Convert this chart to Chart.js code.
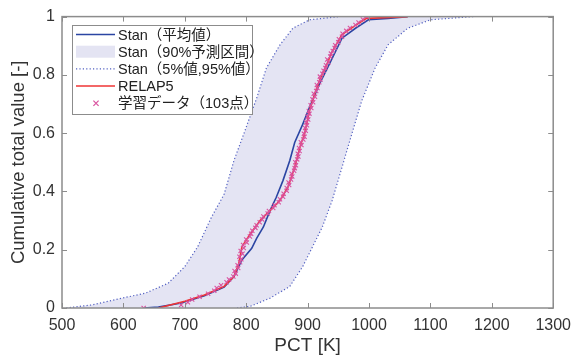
<!DOCTYPE html>
<html>
<head>
<meta charset="utf-8">
<script src="https://cdn.jsdelivr.net/npm/chart.js@4.4.1/dist/chart.umd.min.js"></script>
<style>
  html, body { margin: 0; padding: 0; background: #fff; }
  #wrap { width: 579px; height: 361px; }
</style>
</head>
<body>
<div id="wrap"><canvas id="cdfChart"></canvas></div>
<script>
// Stan 5% / 95% curves (PCT [K], cumulative value)
const lowerPct = [507, 550, 598, 636, 673, 700, 721, 743, 764, 780, 796, 817, 833, 855, 876, 903, 951];
const lowerCum = [0, 0.011, 0.034, 0.051, 0.085, 0.142, 0.21, 0.31, 0.39, 0.506, 0.597, 0.72, 0.824, 0.903, 0.96, 0.989, 1];
const upperPct = [785, 807, 839, 871, 892, 908, 924, 940, 956, 972, 988, 1010, 1031, 1063, 1100, 1170];
const upperCum = [0, 0.006, 0.034, 0.074, 0.142, 0.21, 0.278, 0.369, 0.483, 0.597, 0.71, 0.824, 0.903, 0.96, 0.989, 1];

// Stan mean
const meanPct = [633, 657, 694, 732, 764, 780, 793, 809, 817, 828, 839, 849, 860, 871, 879, 892, 903, 919, 935, 956, 978, 999, 1031, 1063];
const meanCum = [0, 0.003, 0.017, 0.042, 0.072, 0.108, 0.165, 0.205, 0.239, 0.278, 0.335, 0.38, 0.438, 0.506, 0.568, 0.63, 0.688, 0.767, 0.835, 0.926, 0.96, 0.989, 0.994, 1];

// RELAP5
const relapPct = [657, 700, 732, 764, 780, 788, 793, 807, 823, 839, 855, 868, 879, 889, 895, 903, 913, 921, 929, 940, 956, 978, 996, 1063];
const relapCum = [0, 0.023, 0.045, 0.074, 0.108, 0.153, 0.21, 0.256, 0.301, 0.335, 0.369, 0.415, 0.483, 0.563, 0.597, 0.676, 0.744, 0.79, 0.824, 0.88, 0.938, 0.97, 0.994, 1];

// training data (103 points)
const samplePct = [
  633, 694, 705, 712, 724, 738, 748, 752, 759, 768,
  772, 779, 783, 781, 787, 786, 790, 792, 789, 794,
  791, 796, 795, 801, 800, 806, 808, 810, 815, 817,
  822, 826, 828, 835, 837, 844, 846, 853, 855, 860,
  861, 866, 866, 870, 869, 873, 875, 874, 878, 879,
  881, 880, 883, 885, 884, 887, 886, 890, 889, 893,
  895, 894, 897, 896, 899, 898, 901, 900, 903, 902,
  906, 905, 909, 908, 912, 910, 914, 916, 915, 919,
  921, 920, 924, 926, 929, 930, 934, 932, 937, 938,
  941, 944, 945, 950, 951, 956, 957, 963, 969, 978,
  983, 990, 996
];
const sampleCum = [
  0, 0.010, 0.020, 0.029, 0.039, 0.049, 0.059, 0.069, 0.078, 0.088,
  0.098, 0.108, 0.118, 0.127, 0.137, 0.147, 0.157, 0.167, 0.176, 0.186,
  0.196, 0.206, 0.216, 0.225, 0.235, 0.245, 0.255, 0.265, 0.275, 0.284,
  0.294, 0.304, 0.314, 0.324, 0.333, 0.343, 0.353, 0.363, 0.373, 0.382,
  0.392, 0.402, 0.412, 0.422, 0.431, 0.441, 0.451, 0.461, 0.471, 0.480,
  0.490, 0.500, 0.510, 0.520, 0.529, 0.539, 0.549, 0.559, 0.569, 0.578,
  0.588, 0.598, 0.608, 0.618, 0.627, 0.637, 0.647, 0.657, 0.667, 0.676,
  0.686, 0.696, 0.706, 0.716, 0.725, 0.735, 0.745, 0.755, 0.765, 0.775,
  0.784, 0.794, 0.804, 0.814, 0.824, 0.833, 0.843, 0.853, 0.863, 0.873,
  0.882, 0.892, 0.902, 0.912, 0.922, 0.931, 0.941, 0.951, 0.961, 0.971,
  0.980, 0.990, 1
];

const xTicks = [500, 600, 700, 800, 900, 1000, 1100, 1200, 1300];
const yTicks = [0, 0.2, 0.4, 0.6, 0.8, 1];

const legendLabels = ['Stan（平均値）', 'Stan（90%予測区間）', 'Stan（5%値,95%値）', 'RELAP5', '学習データ（103点）'];

const FONT = "'Liberation Sans', 'Noto Sans CJK JP', sans-serif";
const BLUE = '#2b45a3';
const DOT = '#5260c2';
const RED = '#ef3535';
const PINK = '#d9529f';
const BAND = '#e4e4f3';

const pts = (xs, ys) => xs.map((x, i) => ({ x: x, y: ys[i] }));
// band polygon: 5% curve up, then 95% curve back down
const bandPts = pts(lowerPct, lowerCum).concat(pts(upperPct, upperCum).reverse());

// frame on all four sides with inward ticks, like the original
const frameTicks = {
    id: 'frameTicks',
    afterDatasetsDraw(chart) {
        const { ctx, chartArea: a, scales } = chart;
        ctx.save();
        ctx.strokeStyle = '#8c8c8c';
        ctx.lineWidth = 1;
        ctx.beginPath();
        xTicks.forEach(v => {
            const px = Math.round(scales.x.getPixelForValue(v)) + 0.5;
            ctx.moveTo(px, a.bottom); ctx.lineTo(px, a.bottom - 5);
            ctx.moveTo(px, a.top); ctx.lineTo(px, a.top + 5);
        });
        yTicks.forEach(v => {
            const py = Math.round(scales.y.getPixelForValue(v)) + 0.5;
            ctx.moveTo(a.left, py); ctx.lineTo(a.left + 5, py);
            ctx.moveTo(a.right, py); ctx.lineTo(a.right - 5, py);
        });
        ctx.stroke();
        ctx.lineWidth = 1.5;
        ctx.strokeRect(a.left, a.top, a.right - a.left, a.bottom - a.top);
        ctx.restore();
    }
};

// framed legend in the upper-left corner
const legendBox = {
    id: 'legendBox',
    afterDraw(chart) {
        const ctx = chart.ctx;
        const x0 = 72, y0 = 25, w = 180, h = 89, row = 17.2;
        ctx.save();
        ctx.fillStyle = '#fff';
        ctx.fillRect(x0, y0, w, h);
        ctx.strokeStyle = '#8c8c8c';
        ctx.lineWidth = 1;
        ctx.strokeRect(x0 + 0.5, y0 + 0.5, w, h);
        const cy = i => y0 + 9.5 + i * row;
        const s0 = 76, s1 = 115;
        // mean line
        ctx.strokeStyle = BLUE; ctx.lineWidth = 1.5;
        ctx.beginPath(); ctx.moveTo(s0, cy(0)); ctx.lineTo(s1, cy(0)); ctx.stroke();
        // band
        ctx.fillStyle = BAND;
        ctx.fillRect(s0, cy(1) - 6, s1 - s0, 12);
        // dotted
        ctx.strokeStyle = DOT; ctx.lineWidth = 1.2; ctx.setLineDash([1.2, 2.2]);
        ctx.beginPath(); ctx.moveTo(s0, cy(2)); ctx.lineTo(s1, cy(2)); ctx.stroke();
        ctx.setLineDash([]);
        // RELAP5
        ctx.strokeStyle = RED; ctx.lineWidth = 1.5;
        ctx.beginPath(); ctx.moveTo(s0, cy(3)); ctx.lineTo(s1, cy(3)); ctx.stroke();
        // marker
        ctx.strokeStyle = PINK; ctx.lineWidth = 1.2;
        const mx = 96, my = cy(4), r = 2.6;
        ctx.beginPath();
        ctx.moveTo(mx - r, my - r); ctx.lineTo(mx + r, my + r);
        ctx.moveTo(mx - r, my + r); ctx.lineTo(mx + r, my - r);
        ctx.stroke();
        ctx.fillStyle = '#222';
        ctx.font = "14.5px " + FONT;
        ctx.textBaseline = 'middle';
        legendLabels.forEach((t, i) => ctx.fillText(t, 118, cy(i) + 1));
        ctx.restore();
    }
};

const ctx = document.getElementById('cdfChart').getContext('2d');
Chart.defaults.font.family = FONT;
Chart.defaults.color = '#333';

new Chart(ctx, {
    type: 'line',
    data: {
        datasets: [
            {
                label: legendLabels[4],
                data: pts(samplePct, sampleCum),
                showLine: false,
                pointStyle: 'crossRot',
                pointRadius: 3,
                pointBorderColor: PINK,
                pointBorderWidth: 1.1,
                borderColor: PINK,
                order: 0
            },
            {
                label: legendLabels[3],
                data: pts(relapPct, relapCum),
                borderColor: RED,
                borderWidth: 1.6,
                pointRadius: 0,
                order: 1
            },
            {
                label: legendLabels[0],
                data: pts(meanPct, meanCum),
                borderColor: BLUE,
                borderWidth: 1.6,
                pointRadius: 0,
                order: 2
            },
            {
                label: legendLabels[2],
                data: pts(lowerPct, lowerCum),
                borderColor: DOT,
                borderWidth: 1.2,
                borderDash: [1.2, 2.2],
                pointRadius: 0,
                order: 3
            },
            {
                label: legendLabels[2],
                data: pts(upperPct, upperCum),
                borderColor: DOT,
                borderWidth: 1.2,
                borderDash: [1.2, 2.2],
                pointRadius: 0,
                order: 3
            },
            {
                label: legendLabels[1],
                data: bandPts,
                borderWidth: 0,
                borderColor: 'rgba(0,0,0,0)',
                backgroundColor: BAND,
                fill: 'shape',
                pointRadius: 0,
                order: 4
            }
        ]
    },
    options: {
        responsive: true,
        maintainAspectRatio: false,
        animation: false,
        layout: { padding: { top: 15, right: 18, left: 0, bottom: 0 } },
        scales: {
            x: {
                type: 'linear',
                min: 500,
                max: 1300,
                grid: { display: false, drawTicks: false },
                border: { display: false },
                afterFit: s => { s.height = 53; },
                afterBuildTicks: s => { s.ticks = xTicks.map(v => ({ value: v })); },
                ticks: { padding: 8, color: '#333', font: { size: 16 }, callback: v => String(v) },
                title: { display: true, text: 'PCT [K]', color: '#333', font: { size: 19 }, padding: { top: 0, bottom: 4 } }
            },
            y: {
                type: 'linear',
                min: 0,
                max: 1,
                grid: { display: false, drawTicks: false },
                border: { display: false },
                afterFit: s => { s.width = 62; },
                afterBuildTicks: s => { s.ticks = yTicks.map(v => ({ value: v })); },
                ticks: { padding: 7, color: '#333', font: { size: 16 }, callback: v => String(v) },
                title: { display: true, text: 'Cumulative total value [-]', color: '#333', font: { size: 18.5 }, padding: { top: 8, bottom: 0 } }
            }
        },
        plugins: {
            legend: { display: false },
            tooltip: { enabled: false }
        }
    },
    plugins: [frameTicks, legendBox]
});
</script>
</body>
</html>
